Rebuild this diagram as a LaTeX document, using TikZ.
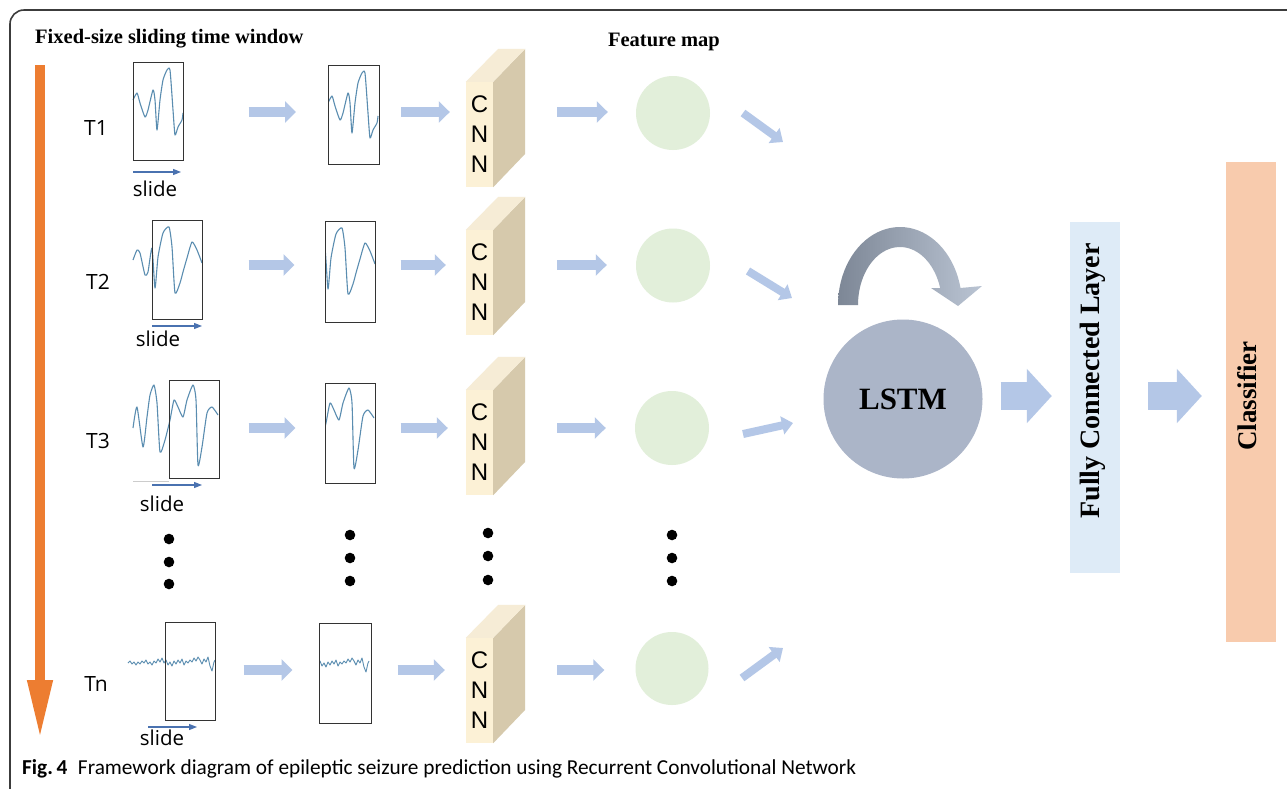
\documentclass[tikz,border=0pt]{standalone}
\usepackage{fontspec}
\setmainfont{Liberation Serif}
\newfontfamily\calfont{Carlito}
\newfontfamily\opfont{Open Sans}
\newfontfamily\arialfont{Liberation Sans}
\usetikzlibrary{arrows.meta,calc}
\definecolor{framec}{HTML}{3C3C3C}
\definecolor{orangec}{HTML}{ED7D31}
\definecolor{arrowblue}{HTML}{B4C7E7}
\definecolor{featc}{HTML}{E2EFDA}
\definecolor{cnnfront}{HTML}{FCF1D6}
\definecolor{cnnside}{HTML}{D6C9AC}
\definecolor{cnntop}{HTML}{F6ECD6}
\definecolor{lstmc}{HTML}{ABB5C8}
\definecolor{fcc}{HTML}{DEEBF7}
\definecolor{clc}{HTML}{F8CBAD}
\definecolor{sigc}{HTML}{5A8DB0}
\definecolor{slidec}{HTML}{4A72B0}
\definecolor{curvL}{HTML}{7D8796}
\definecolor{curvR}{HTML}{BAC4D3}
\newcommand\sigOne{\draw[sig] plot[smooth,tension=0.35] coordinates {(0,38) (4,31) (7,41) (12,55) (15,48) (20,28) (22,38) (24,68) (27,38) (30,18) (34,8) (37,8) (40,48) (42,73) (45,65) (49,58) (50,51)};}
\newcommand\sigTwo{\draw[sig] plot[smooth,tension=0.35] coordinates {(-19,40) (-15,30) (-12,33) (-7,55) (-4,52) (0,28) (3,68) (6,37) (11,13) (17,7) (20,27) (23,73) (28,63) (31,52) (35,38) (40,22) (45,30) (50,43)};}
\newcommand\sigThree{\draw[sig] plot[smooth,tension=0.35] coordinates {(-36,48) (-32,27) (-26,67) (-22,37) (-19,15) (-15,5) (-12,23) (-9,72) (-4,60) (1,40) (5,20) (9,27) (14,37) (18,20) (24,5) (27,20) (29,85) (33,67) (38,33) (43,27) (49,35)};}
\newcommand\sigN{\draw[sig,line width=0.9pt] plot coordinates {(-37,41) (-35,39) (-33,42) (-31,40) (-29,43) (-27,40) (-25,42) (-23,39) (-21,41) (-19,38) (-17,42) (-15,40) (-13,43) (-11,39) (-9,41) (-7,37) (-5,40) (-3,36) (-1,41) (1,38) (3,43) (5,40) (7,44) (9,39) (11,42) (13,38) (15,41) (17,37) (19,43) (21,39) (23,41) (25,38) (27,40) (29,36) (31,39) (33,35) (35,38) (37,42) (39,37) (41,40) (43,35) (45,44) (47,49) (49,40) (50,38)};}
\begin{document}
\begin{tikzpicture}[x=1pt,y=-1pt,
  sig/.style={draw=sigc,line width=1.1pt,line join=round},
  win/.style={draw=black!80,line width=1pt,rectangle,inner sep=0pt,minimum width=50pt,minimum height=98pt},
  flow/.style={draw=arrowblue,line width=10pt,-{Triangle[length=11pt,width=21pt]}},
  diag/.style={draw=arrowblue,line width=8pt,-{Triangle[length=11pt,width=18pt]}},
  big/.style={draw=arrowblue,line width=28pt,-{Triangle[length=25pt,width=53pt]}},
  slidearr/.style={draw=slidec,line width=1.1pt,-{Triangle[length=8pt,width=6pt]}},
  tlabel/.style={font=\opfont\fontsize{21}{25}\selectfont,inner sep=0pt},
  slidelabel/.style={font=\opfont\fontsize{20.5}{24}\selectfont,inner sep=0pt},
  cnn/.style={fill=cnnfront,minimum width=27pt,minimum height=105pt,inner sep=0pt,align=center,font=\arialfont\fontsize{24}{30}\selectfont},
  feat/.style={circle,fill=featc,minimum size=74pt,inner sep=0pt},
  dot/.style={fill=black},
  btitle/.style={font=\bfseries\fontsize{20.5}{24}\selectfont,inner sep=0pt}
]
\useasboundingbox (0,0) rectangle (1287,788);
\clip (0,0) rectangle (1287,788);
\fill[white] (0,0) rectangle (1287,788);

% frame
\draw[framec,line width=1.6pt,rounded corners=14pt] (10,800) -- (10,10) -- (1300,10);

% titles
\node[btitle,anchor=west] (title) at (35,39) {Fixed-size sliding time window};
\node[btitle] (fmap) at (664,42) {Feature map};

% time arrow
\coordinate (ta) at (40,65);
\coordinate (tb) at (40,740);
\draw[orangec,line width=10pt,-{Triangle[length=60pt,width=23pt]}] (ta) -- (tb);

% row labels
\node[tlabel] (T1) at (96,128) {T1};
\node[tlabel] (T2) at (98,282) {T2};
\node[tlabel] (T3) at (98,441) {T3};
\node[tlabel] (Tn) at (96,684) {Tn};

% signals, first windows
\begin{scope}[shift={(133,62)}]\sigOne\end{scope}
\begin{scope}[shift={(152,220)}]\sigTwo\end{scope}
\begin{scope}[shift={(169,380)}]\sigThree\end{scope}
\begin{scope}[shift={(165,622)}]\sigN\end{scope}
% signals, second windows
\begin{scope}[shift={(328,65)}]\clip (0,0) rectangle (51,99);\sigOne\end{scope}
\begin{scope}[shift={(325,221)}]\clip (0,0) rectangle (50,101);\sigTwo\end{scope}
\begin{scope}[shift={(325,383)}]\clip (0,0) rectangle (50,100);\sigThree\end{scope}
\begin{scope}[shift={(319,623)}]\clip (0,0) rectangle (52,100);\sigN\end{scope}

% windows
\node[win] (w11) at (158,111) {};
\node[win,minimum width=51pt,minimum height=99pt] (w12) at (353.5,114.5) {};
\node[win,minimum height=99pt] (w21) at (177,269.5) {};
\node[win,minimum height=101pt] (w22) at (350,271.5) {};
\node[win] (w31) at (194,429) {};
\node[win,minimum height=100pt] (w32) at (350,433) {};
\node[win] (wn1) at (190,671) {};
\node[win,minimum width=52pt,minimum height=100pt] (wn2) at (345,673) {};

% slide arrows
\coordinate (s1a) at (133,172); \coordinate (s1b) at (181,172);
\coordinate (s2a) at (152,326); \coordinate (s2b) at (202,326);
\coordinate (s3a) at (152,485); \coordinate (s3b) at (202,485);
\coordinate (sna) at (148,727); \coordinate (snb) at (197,727);
\coordinate (g3a) at (133,481); \coordinate (g3b) at (169,481);
\draw[black!20,line width=0.8pt] (g3a) -- (g3b);
\draw[slidearr] (s1a) -- (s1b);
\draw[slidearr] (s2a) -- (s2b);
\draw[slidearr] (s3a) -- (s3b);
\draw[slidearr] (sna) -- (snb);
\node[slidelabel] (sl1) at (155,189) {slide};
\node[slidelabel] (sl2) at (158,339) {slide};
\node[slidelabel] (sl3) at (162,504) {slide};
\node[slidelabel] (sln) at (162,738) {slide};

% CNN blocks
\foreach \n/\y in {1/134.5,2/282.5,3/442.5,n/690.5}{
  \node[cnn] (c\n) at (479.5,\y) {C\\N\\N};
  \fill[cnnside] (c\n.north east) -- ++(32,-33) -- ++(0,105) -- (c\n.south east) -- cycle;
  \fill[cnntop] (c\n.north west) -- (c\n.north east) -- ++(32,-33) -- ++(-27,0) -- cycle;
}

% feature maps
\node[feat] (f1) at (673,113) {};
\node[feat] (f2) at (673,265.5) {};
\node[feat] (f3) at (672,428) {};
\node[feat,minimum size=73pt] (fn) at (672,668.5) {};

% row reference coordinates
\coordinate (r1) at (0,112);
\coordinate (r2) at (0,265);
\coordinate (r3) at (0,428);
\coordinate (rn) at (0,670);

% flow arrows
\draw[flow,shorten <=65pt,shorten >=31.5pt] (w11.east |- r1) -- (w12.west |- r1);
\draw[flow,shorten <=21.5pt,shorten >=16pt] (w12.east |- r1) -- (c1.west |- r1);
\draw[flow,shorten <=64pt,shorten >=28pt] (c1.east |- r1) -- (f1.west |- r1);
\draw[flow,shorten <=46pt,shorten >=30pt] (w21.east |- r2) -- (w22.west |- r2);
\draw[flow,shorten <=25pt,shorten >=20pt] (w22.east |- r2) -- (c2.west |- r2);
\draw[flow,shorten <=64pt,shorten >=29pt] (c2.east |- r2) -- (f2.west |- r2);
\draw[flow,shorten <=29pt,shorten >=29pt] (w31.east |- r3) -- (w32.west |- r3);
\draw[flow,shorten <=25pt,shorten >=18pt] (w32.east |- r3) -- (c3.west |- r3);
\draw[flow,shorten <=64pt,shorten >=29pt] (c3.east |- r3) -- (f3.west |- r3);
\draw[flow,shorten <=28pt,shorten >=26pt] (wn1.east |- rn) -- (wn2.west |- rn);
\draw[flow,shorten <=26pt,shorten >=21pt] (wn2.east |- rn) -- (cn.west |- rn);
\draw[flow,shorten <=64pt,shorten >=31pt] (cn.east |- rn) -- (fn.west |- rn);

% dots
\foreach \x/\a/\b/\c in {169/539/562/584,350/535/558/581,488/533/556/580,672/535/558/581}{
  \fill[dot] (\x,\a) circle[radius=5.3pt];
  \fill[dot] (\x,\b) circle[radius=5.3pt];
  \fill[dot] (\x,\c) circle[radius=5.3pt];
}

% LSTM
\node[circle,fill=lstmc,minimum size=159pt,inner sep=0pt,font=\bfseries\fontsize{31}{36}\selectfont] (lstm) at (903,399) {LSTM};

% diagonal arrows to LSTM
\coordinate (d1a) at (743,113); \coordinate (d1b) at (783,142);
\coordinate (d2a) at (748,271); \coordinate (d2b) at (792,298);
\coordinate (d3a) at (743,434); \coordinate (d3b) at (793,423);
\coordinate (dna) at (742,678); \coordinate (dnb) at (783,648);
\draw[diag] (d1a) -- (d1b);
\draw[diag] (d2a) -- (d2b);
\draw[diag] (d3a) -- (d3b);
\draw[diag] (dna) -- (dnb);

% recurrent arrow
\shade[left color=curvL,right color=curvR]
  plot[domain=180:347.4,samples=40,variable=\t] ({900+62*cos(\t)},{305+78*sin(\t)})
  -- (982,286) -- (958,306) -- (931,288)
  -- plot[domain=343:180,samples=40,variable=\t] ({900+42*cos(\t)},{305+58*sin(\t)})
  -- cycle;

% FC and classifier
\node[fill=fcc,minimum width=50pt,minimum height=351pt,inner sep=0pt] (fc) at (1095,397.5) {};
\node[rotate=90,font=\bfseries\fontsize{28}{32}\selectfont,inner sep=0pt] (fct) at (1093,381) {Fully Connected Layer};
\node[fill=clc,minimum width=50pt,minimum height=480pt,inner sep=0pt] (cl) at (1251,402) {};
\node[rotate=90,font=\bfseries\fontsize{27}{32}\selectfont,inner sep=0pt] (clt) at (1247,396) {Classifier};

\coordinate (rb) at (0,396);
\draw[big,shorten <=18pt,shorten >=18pt] (lstm.east |- rb) -- (fc.west |- rb);
\draw[big,shorten <=28pt,shorten >=24pt] (fc.east |- rb) -- (cl.west |- rb);

% caption
\node[anchor=base west,inner sep=0pt,font=\calfont\fontsize{21.3}{24}\selectfont] (cap) at (22,774) {\textbf{Fig.\,4}\hspace{0.5em}Framework diagram of epileptic seizure prediction using Recurrent Convolutional Network};
\end{tikzpicture}
\end{document}
